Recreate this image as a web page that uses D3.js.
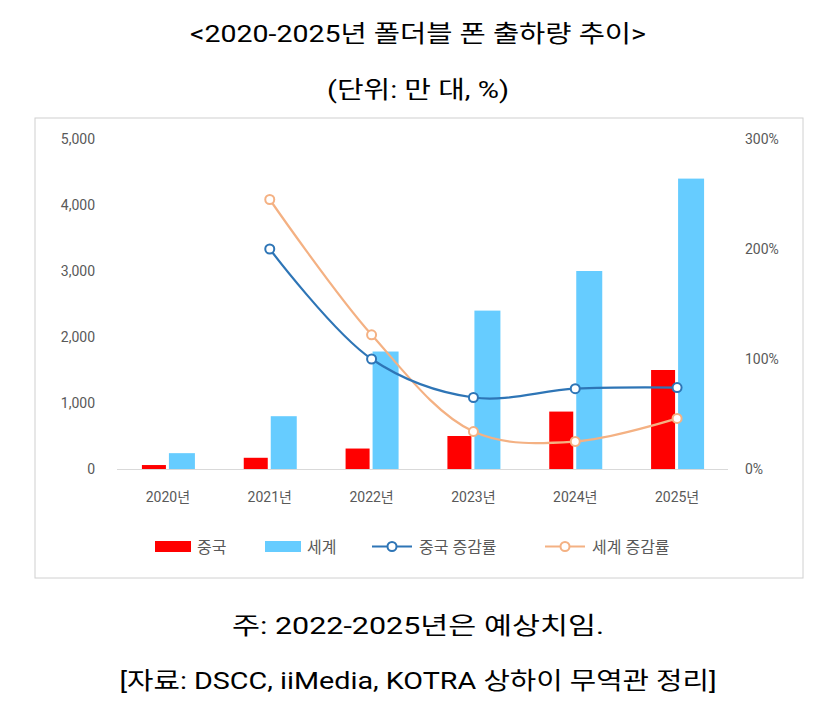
<!DOCTYPE html>
<html><head><meta charset="utf-8">
<script src="https://cdn.jsdelivr.net/npm/d3@7"></script>
<style>body{margin:0;background:#fff;font-family:Roboto,"Noto Sans CJK KR",sans-serif}</style>
</head><body>
<script>
const years = ["2020년","2021년","2022년","2023년","2024년","2025년"];
const china = [60,170,310,500,870,1500];
const world = [240,800,1780,2400,3000,4400];
const chinaGrowth = [null,200,100,65,73,74];
const worldGrowth = [null,245,122,34,25,46];
const leftTicks = [0,1000,2000,3000,4000,5000];
const rightTicks = [0,100,200,300];

const svg = d3.select("body").append("svg").attr("width",836).attr("height",706);
const kr = "Roboto,'Noto Sans CJK KR',sans-serif";
function heading(t,yy,w){
  svg.append("text").attr("x",418).attr("y",yy).attr("text-anchor","middle")
    .attr("font-size",24).attr("font-family",kr)
    .attr("textLength",w).attr("lengthAdjust","spacingAndGlyphs").text(t);
}
heading("<2020-2025년 폴더블 폰 출하량 추이>",42,456);
heading("(단위: 만 대, %)",98,182);
svg.append("rect").attr("x",35).attr("y",118).attr("width",768).attr("height",460)
  .attr("fill","none").attr("stroke","#d0d0d0");

const x = d3.scaleBand().domain(years).range([117,728]);
const y = d3.scaleLinear().domain([0,5000]).range([469,139]);
const y2 = d3.scaleLinear().domain([0,300]).range([469,139]);
const g = svg.append("g").attr("font-family",kr).attr("fill","#595959").attr("font-size",14);

g.selectAll(".lt").data(leftTicks).join("text").attr("x",95).attr("y",d=>y(d)+5)
  .attr("text-anchor","end").text(d3.format(","));
g.selectAll(".rt").data(rightTicks).join("text").attr("x",745).attr("y",d=>y2(d)+5)
  .text(d=>d+"%");
g.selectAll(".xt").data(years).join("text").attr("x",d=>x(d)+x.bandwidth()/2).attr("y",502)
  .attr("text-anchor","middle").text(d=>d);
svg.append("line").attr("x1",117).attr("x2",728).attr("y1",469.5).attr("y2",469.5).attr("stroke","#d9d9d9");

const bw = 24;
svg.selectAll(".bc").data(china).join("rect").attr("fill","#ff0000")
  .attr("x",(d,i)=>x(years[i])+x.bandwidth()/2-bw-2).attr("width",bw)
  .attr("y",d=>y(d)).attr("height",d=>y(0)-y(d));
svg.selectAll(".bw").data(world).join("rect").attr("fill","#66ccff")
  .attr("x",(d,i)=>x(years[i])+x.bandwidth()/2+1).attr("width",bw+2)
  .attr("y",d=>y(d)).attr("height",d=>y(0)-y(d));

function series(vals,color){
  const pts = vals.map((v,i)=>[x(years[i])+x.bandwidth()/2,v]).filter(p=>p[1]!=null);
  svg.append("path").attr("d",d3.line().x(p=>p[0]).y(p=>y2(p[1])).curve(d3.curveCatmullRom)(pts))
    .attr("fill","none").attr("stroke",color).attr("stroke-width",2.2);
  svg.selectAll(null).data(pts).join("circle").attr("cx",p=>p[0]).attr("cy",p=>y2(p[1]))
    .attr("r",4.5).attr("fill","#fff").attr("stroke",color).attr("stroke-width",2);
}
series(worldGrowth,"#f4b183");
series(chinaGrowth,"#2e75b6");

const lg = svg.append("g").attr("font-family",kr).attr("font-size",16).attr("fill","#595959");
lg.append("rect").attr("x",155).attr("y",541).attr("width",36).attr("height",11).attr("fill","#ff0000");
lg.append("text").attr("x",197).attr("y",553).text("중국");
lg.append("rect").attr("x",265).attr("y",541).attr("width",36).attr("height",11).attr("fill","#66ccff");
lg.append("text").attr("x",307).attr("y",553).text("세계");
[[372,"#2e75b6","중국 증감률"],[545,"#f4b183","세계 증감률"]].forEach(([lx,c,t])=>{
  lg.append("line").attr("x1",lx).attr("x2",lx+40).attr("y1",546.5).attr("y2",546.5).attr("stroke",c).attr("stroke-width",2.2);
  lg.append("circle").attr("cx",lx+20).attr("cy",546.5).attr("r",4.5).attr("fill","#fff").attr("stroke",c).attr("stroke-width",2);
  lg.append("text").attr("x",lx+47).attr("y",553).text(t);
});

heading("주: 2022-2025년은 예상치임.",634,372);
heading("[자료: DSCC, iiMedia, KOTRA 상하이 무역관 정리]",689,597);
</script>
</body></html>
